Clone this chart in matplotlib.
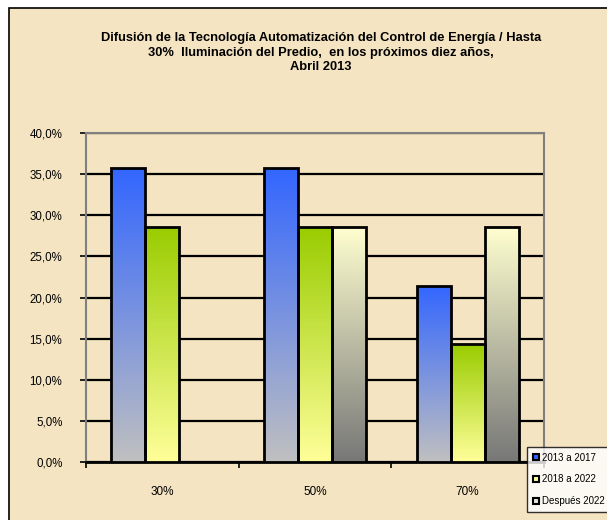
import numpy as np
import matplotlib
matplotlib.use("Agg")
import matplotlib.pyplot as plt
from matplotlib.patches import Rectangle
from matplotlib.colors import LinearSegmentedColormap

categories = ["30%", "50%", "70%"]
series_names = ["2013 a 2017", "2018 a 2022", "Después 2022"]
s1 = [35.7, 35.7, 21.4]
s2 = [28.6, 28.6, 14.3]
s3 = [0.0, 28.6, 28.6]
yticks = [0, 5, 10, 15, 20, 25, 30, 35, 40]
ytick_labels = ["0,0%", "5,0%", "10,0%", "15,0%", "20,0%", "25,0%", "30,0%", "35,0%", "40,0%"]
title = ("Difusión de la Tecnología Automatización del Control de Energía / Hasta\n"
         "30%  Iluminación del Predio,  en los próximos diez años,\n"
         "Abril 2013")

grad = [("#3366FF", "#C0C0C0"), ("#99CC00", "#FFFF99"), ("#FFFFD0", "#777777")]
legend_colors = ["#3366FF", "#FFFF99", "#E8E8D0"]
bg = "#F4E4C2"

plt.rcParams['font.family'] = ['Liberation Sans', 'DejaVu Sans']

fig = plt.figure(figsize=(6.07, 5.20), dpi=100, facecolor="white")
fig.patches.append(Rectangle((9/607, -0.1), 1.2, 1.1 - 8/520, transform=fig.transFigure,
                             facecolor=bg, edgecolor="black", linewidth=1.2, zorder=-10))

ax = fig.add_axes([86/607, 1-462/520, (544-86)/607, (462-133)/520])
ax.set_facecolor(bg)
ax.patch.set_alpha(0)

x = np.arange(len(categories))
w = 0.223
series = [s1, s2, s3]
for i, vals in enumerate(series):
    offs = (i - 1) * w
    bars = ax.bar(x + offs, vals, w, facecolor="none", edgecolor="black", linewidth=2, zorder=4)
    cmap = LinearSegmentedColormap.from_list(f"g{i}", [grad[i][1], grad[i][0]])
    for b in bars:
        h = b.get_height()
        if h <= 0:
            continue
        x0 = b.get_x()
        img = ax.imshow(np.linspace(0, 1, 256).reshape(-1, 1), cmap=cmap, aspect="auto",
                        extent=(x0, x0 + b.get_width(), 0, h), origin="lower", zorder=3)
        img.set_clip_path(b)

ax.set_xlim(-0.5, 2.5)
ax.set_ylim(0, 40)
ax.set_yticks(yticks)
ax.set_yticklabels(ytick_labels, fontsize=8.3)
ax.yaxis.grid(True, color="black", linewidth=1.6, zorder=1)
ax.set_axisbelow(True)
ax.tick_params(axis="y", direction="out", length=4, width=1.2, pad=13)

ax.set_xticks([-0.5, 0.5, 1.5, 2.5])
ax.set_xticklabels([])
ax.set_xticks(x, minor=True)
ax.set_xticklabels(categories, minor=True, fontsize=8.5)
ax.tick_params(axis="x", which="major", direction="out", length=4, width=1.2)
ax.tick_params(axis="x", which="minor", length=0, pad=17)

for s in ["left", "top", "right"]:
    ax.spines[s].set_color("#808080")
    ax.spines[s].set_linewidth(1.5)
ax.spines["bottom"].set_color("black")
ax.spines["bottom"].set_linewidth(2)

fig.text(321/607, 1 - 32/520, title, ha="center", va="top", fontsize=9.3, fontweight="bold",
         linespacing=1.3)

handles = [Rectangle((0, 0), 1, 1, facecolor=c, edgecolor="black", linewidth=1.5) for c in legend_colors]
leg = fig.legend(handles, series_names, loc="upper left", bbox_to_anchor=(527/607, 1 - 447/520),
                 fontsize=7, frameon=True, fancybox=False, handlelength=0.6, handleheight=0.6,
                 handletextpad=0.3, labelspacing=1.2, borderpad=0.6, borderaxespad=0)
leg.get_frame().set_edgecolor("black")
leg.get_frame().set_linewidth(1)
leg.get_frame().set_facecolor("white")

fig.savefig("out.png", dpi=100, facecolor="white")
